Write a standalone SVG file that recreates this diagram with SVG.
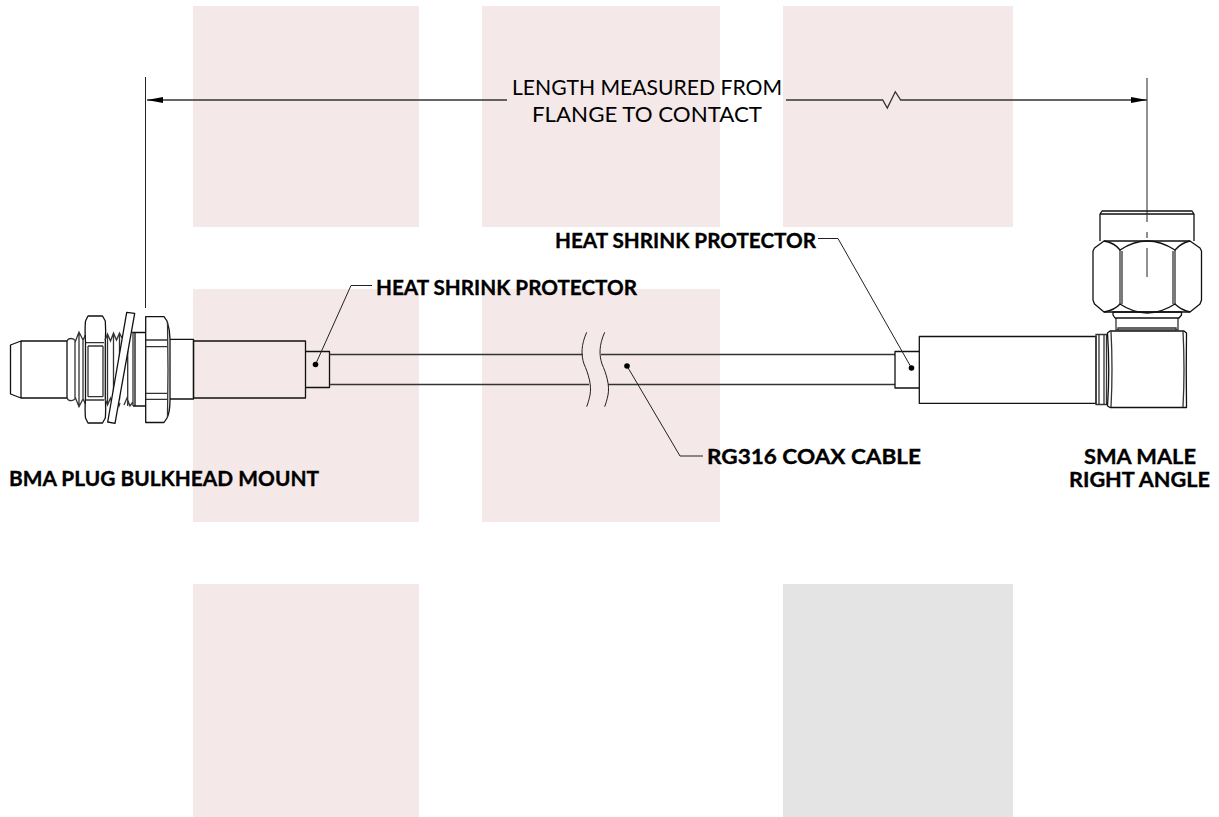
<svg xmlns="http://www.w3.org/2000/svg" width="1219" height="817" viewBox="0 0 1219 817">
<style>
.bg{fill:#f4e8e8}
.gr{fill:#e4e4e4}
.l{fill:none;stroke:#111;stroke-width:1.3;stroke-linejoin:round}
.t{fill:none;stroke:#222;stroke-width:1}
.k{fill:none;stroke:#333;stroke-width:1.3}
.b{font-family:"Lato","Liberation Sans",sans-serif;font-weight:700;font-size:20.500px;fill:#000;stroke:#000;stroke-width:.35}
.d{font-family:"Lato","Liberation Sans",sans-serif;font-weight:400;font-size:20.500px;fill:#000}
.dot{fill:#000}
.w{fill:#fff;stroke:#111;stroke-width:1.3;stroke-linejoin:round}
</style>
<defs>
<marker id="ah" viewBox="0 0 16 6" refX="16" refY="3" markerWidth="16" markerHeight="6" orient="auto-start-reverse" markerUnits="userSpaceOnUse"><path d="M0 0L16 3L0 6Z" fill="#000"/></marker>
</defs>
<g id="background">
<rect class="bg" x="193" y="6" width="226" height="221"/>
<rect class="bg" x="482" y="6" width="238" height="221"/>
<rect class="bg" x="783" y="6" width="230" height="221"/>
<rect class="bg" x="193" y="289" width="226" height="233"/>
<rect class="bg" x="482" y="289" width="238" height="233"/>
<rect class="bg" x="193" y="584" width="226" height="233"/>
<rect class="gr" x="783" y="584" width="230" height="233"/>
</g>
<g id="bma-connector">
<path class="l" d="M21 341L10.500 345V394L21 398M21 341H67V398H21Z"/>
<path class="k" d="M67 341Q68 338.500 71 338.500Q74 338.500 75.500 341L79 332L83 340L85.500 335M67 398Q68 400.700 71 400.700Q74 400.700 75.500 398L79 406.700L83 399L85.500 404M75 341V398M79 332V406.700M83 340V399"/>
<path class="l" d="M88 316H102.500L105.300 321Q106 330 105.300 342V397Q106 410 105.300 418L102.500 423H88L85.500 418Q84.700 410 85.500 397V342Q84.700 330 85.500 321Z"/>
<path class="k" d="M86 342.700H104M88 346H103M88 396.700H103M86 400H104M88 346V396.700M103 346V396.700"/>
<path class="k" d="M105 340L107.500 334L110.500 341L113.500 333L116.500 340L119.500 333L122 338M105 399L107.500 405L110.500 398L113 406L116 399L119 406L120 403M127 336L130 333L133 332M112 406L115 399M107.500 334V405M113.500 333V406M119.500 333V400M127.700 336V406M133 332V406M124 405L127 398L130 406L133 402"/>
<path class="w" d="M126.700 312.300L134.700 313.300L115 423.300L107.700 422Z"/>
<path class="l" d="M133 332.500H146M133 406H146M135 333V406"/>
<path class="l" d="M145.700 316.700H164L167 321Q170 330 170 339V400Q170 412 167 418L164 422.500H145.700Z"/>
<path class="k" d="M146 340H167M146 346.700H167M146 393.300H167M146 399.300H167M167.500 322Q168.500 370 167.500 417"/>
<path class="l" d="M170 339.300H193.500V399H170"/>
<path class="l" d="M193.500 341H305.500V398H193.500Z"/>
</g>
<g id="left-heat-shrink">
<path class="l" d="M305.500 351.500H329.500V387.500H305.500"/>
</g>
<g id="cable">
<path class="k" d="M329.500 354.500H583M329.500 384.500H589M601 354.500H895M608 384.500H895"/>
<path class="t" d="M586.700 332.300C581 345 581 355 584 364C588 373 592 385 590 395C589 400 588 403 586.700 406.700"/>
<path class="t" d="M604.700 332.300C599 345 599 355 602 364C606 373 610 385 608 395C607 400 606 403 604.700 406.700"/>
</g>
<g id="right-heat-shrink">
<path class="l" d="M919 351.500H895V388H919"/>
</g>
<g id="sma-connector">
<path class="l" d="M919.300 336.500H1096V403.300H919.300Z"/>
<path class="k" d="M1096 334.500H1106.500V404.500H1096ZM1099 335V404M1104 334V404"/>
<path class="l" d="M1110 331H1184L1186.500 333Q1186 370 1186.500 406V407.500H1110L1107.500 406Q1110 370 1107.500 333Z"/>
<path class="k" d="M1111 331Q1113 370 1111 407M1183 331Q1185 370 1183 407"/>
<path class="k" d="M1116 318V330H1178V318M1118 330V328H1176V330"/>
<path class="l" d="M1113 312H1181.500V315L1179 318H1115L1113 315Z"/>
<path class="l" d="M1104 241H1190L1200 248L1201.500 251V300L1200 304L1190 312H1104L1094.500 304L1093 300V251L1094.500 248Z"/>
<path class="k" d="M1120 250V304M1122 251V304M1173 251V304M1175 250V304"/>
<path class="l" d="M1104 241Q1115 243 1120 250Q1147 232 1175 250Q1181 243 1190 241M1104 312Q1115 310 1120 304Q1147 322 1175 304Q1181 310 1190 312"/>
<path class="l" d="M1100 241V214L1102 211H1192L1194 214V241M1100 214H1194"/>
</g>
<g id="connectors">
<path class="t" d="M145.500 77V308"/>
<path class="t" d="M1147 78V222M1147 232V238M1147 248V277"/>
<path class="k" marker-start="url(#ah)" d="M147 100H507"/>
<path class="k" marker-end="url(#ah)" d="M786 100H882.700L887.300 108L895.300 91.700L900.700 100H1147"/>
<path class="t" d="M315.500 364.500L351 285.500H372"/>
<circle class="dot" cx="315.500" cy="364.500" r="2.800"/>
<path class="t" d="M911.500 368L838 238.500H818"/>
<circle class="dot" cx="911.500" cy="368" r="2.800"/>
<path class="t" d="M627 366L680 456H703"/>
<circle class="dot" cx="627" cy="366" r="2.800"/>
</g>
<g id="labels">
<text class="d" x="512" y="95.300" textLength="270" lengthAdjust="spacingAndGlyphs">LENGTH MEASURED FROM</text>
<text class="d" x="532" y="121.700" textLength="230" lengthAdjust="spacingAndGlyphs">FLANGE TO CONTACT</text>
<text class="b" x="376" y="294.500" textLength="261" lengthAdjust="spacingAndGlyphs">HEAT SHRINK PROTECTOR</text>
<text class="b" x="555" y="248" textLength="261" lengthAdjust="spacingAndGlyphs">HEAT SHRINK PROTECTOR</text>
<text class="b" x="707" y="464" textLength="214" lengthAdjust="spacingAndGlyphs">RG316 COAX CABLE</text>
<text class="b" x="9" y="486" textLength="310" lengthAdjust="spacingAndGlyphs">BMA PLUG BULKHEAD MOUNT</text>
<text class="b" x="1084" y="464" textLength="112" lengthAdjust="spacingAndGlyphs">SMA MALE</text>
<text class="b" x="1069" y="487" textLength="141" lengthAdjust="spacingAndGlyphs">RIGHT ANGLE</text>
</g>
</svg>
